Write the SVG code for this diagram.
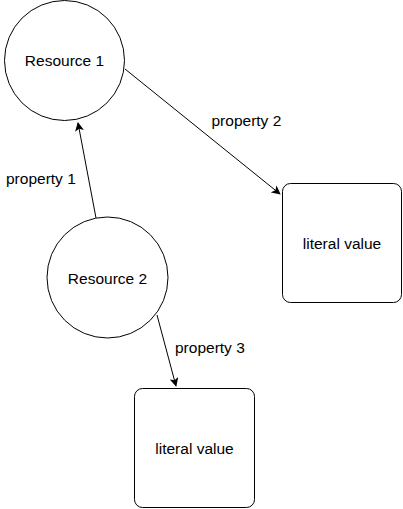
<svg xmlns="http://www.w3.org/2000/svg" width="403" height="509" viewBox="0 0 403 509">
<defs>
<style>
.n{fill:#fff;stroke:#000;stroke-width:1}
.t{font-family:"Liberation Sans",Arial,sans-serif;font-size:15.5px;fill:#000;text-anchor:middle;dominant-baseline:central}
.l{font-family:"Liberation Sans",Arial,sans-serif;font-size:15.5px;fill:#000}
.e{stroke:#000;stroke-width:1;fill:none;marker-end:url(#a)}
</style>
<marker id="a" viewBox="0 0 10 10" refX="9" refY="5" markerWidth="9" markerHeight="9" markerUnits="userSpaceOnUse" orient="auto">
<path d="M0,0 L10,5 L0,10 L2.5,5 Z" fill="#000"/>
</marker>
</defs>
<g id="connectors">
<line class="e" x1="96" y1="218" x2="78" y2="123"/>
<line class="e" x1="125" y1="69" x2="280" y2="194"/>
<line class="e" x1="157" y1="315" x2="176" y2="386"/>
</g>
<g id="resource1"><circle class="n" cx="64.5" cy="60.5" r="60"/><text class="t" x="64.5" y="60.5">Resource 1</text></g>
<g id="resource2"><circle class="n" cx="107.5" cy="277.5" r="60.5"/><text class="t" x="107.5" y="278">Resource 2</text></g>
<g id="literal1"><rect class="n" x="282.5" y="183.5" width="119" height="119" rx="8"/><text class="t" x="342" y="243">literal value</text></g>
<g id="literal2"><rect class="n" x="134.5" y="388.5" width="120" height="119" rx="8"/><text class="t" x="194.5" y="448">literal value</text></g>
<g id="labels">
<text class="l" x="6" y="183.5">property 1</text>
<text class="l" x="211.5" y="126">property 2</text>
<text class="l" x="175" y="353">property 3</text>
</g>
</svg>
